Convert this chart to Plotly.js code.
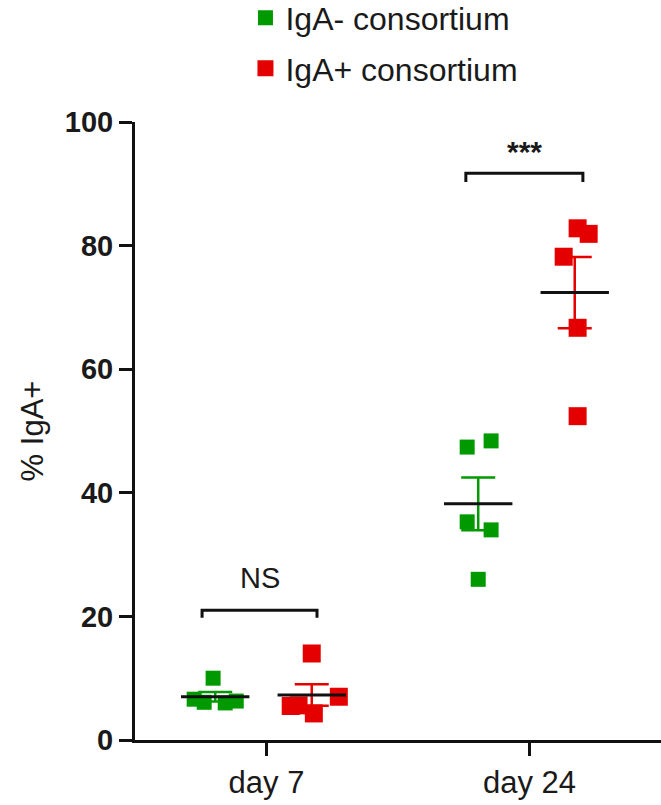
<!DOCTYPE html>
<html>
<head>
<meta charset="utf-8">
<script src="https://cdn.plot.ly/plotly-3.0.1.min.js"></script>
<style>
  html, body { margin: 0; padding: 0; background: #fff; }
  #chart { width: 661px; height: 805px; }
</style>
</head>
<body>
<div id="chart"></div>
<script>
// ---- data ----
const categories = ['day 7', 'day 24'];
const seriesNames = ['IgA- consortium', 'IgA+ consortium'];
const igaNegDay7  = [10.0, 6.6, 6.3, 6.1, 6.0];
const igaPosDay7  = [14.0, 7.0, 5.5, 4.3, 5.6];
const igaNegDay24 = [47.4, 48.4, 35.3, 34.0, 26.0];
const igaPosDay24 = [82.8, 81.9, 78.2, 66.7, 52.4];
const yTicks = [0, 20, 40, 60, 80, 100];
const sigLabels = ['NS', '***'];

// ---- layout helpers (positions/styles, not data) ----
const groupOffset = [-0.195, 0.172];
const jitter = {
  negDay7:  [-0.008, -0.080, 0.080, -0.042, 0.038],
  posDay7:  [0.000, 0.103, -0.080, 0.008, -0.050],
  negDay24: [-0.042, 0.049, -0.042, 0.049, 0.000],
  posDay24: [0.011, 0.053, -0.042, 0.011, 0.011]
};
const colors = ['#009a00', '#e50000'];
const markerSizes = [15, 18];
const meanHalf = 0.13;

function mean(a) { return a.reduce((s, v) => s + v, 0) / a.length; }
function sem(a) {
  const m = mean(a);
  const sd = Math.sqrt(a.reduce((s, v) => s + (v - m) * (v - m), 0) / (a.length - 1));
  return sd / Math.sqrt(a.length);
}

const groups = [
  [igaNegDay7, igaNegDay24],
  [igaPosDay7, igaPosDay24]
];
const jit = [[jitter.negDay7, jitter.negDay24], [jitter.posDay7, jitter.posDay24]];

const traces = [];
// points
for (let s = 0; s < 2; s++) {
  const xs = [], ys = [];
  for (let c = 0; c < 2; c++) {
    groups[s][c].forEach((v, i) => {
      xs.push(c + groupOffset[s] + jit[s][c][i]);
      ys.push(v);
    });
  }
  traces.push({
    type: 'scatter', mode: 'markers', x: xs, y: ys, name: seriesNames[s],
    marker: { symbol: 'square', size: markerSizes[s], color: colors[s] },
    showlegend: true, legendgroup: 'g' + s, hoverinfo: 'y', cliponaxis: false
  });
}
// SEM error bars
for (let s = 0; s < 2; s++) {
  const xs = [], ys = [], errs = [];
  for (let c = 0; c < 2; c++) {
    xs.push(c + groupOffset[s]);
    ys.push(mean(groups[s][c]));
    errs.push(sem(groups[s][c]));
  }
  traces.push({
    type: 'scatter', mode: 'markers', x: xs, y: ys, showlegend: false,
    marker: { size: 1, color: 'rgba(0,0,0,0)' },
    error_y: { type: 'data', array: errs, visible: true, color: colors[s], thickness: 2.5, width: 17 },
    hoverinfo: 'skip'
  });
}
// mean lines
for (let s = 0; s < 2; s++) {
  for (let c = 0; c < 2; c++) {
    const m = mean(groups[s][c]);
    const xc = c + groupOffset[s];
    traces.push({
      type: 'scatter', mode: 'lines', x: [xc - meanHalf, xc + meanHalf], y: [m, m],
      line: { color: '#111', width: 3 }, showlegend: false, hoverinfo: 'skip'
    });
  }
}

const textColor = '#1a1a1a';
const layout = {
  width: 661, height: 805,
  margin: { l: 135, r: 0, t: 122, b: 65, autoexpand: false },
  paper_bgcolor: '#fff', plot_bgcolor: '#fff',
  font: { family: 'Liberation Sans, Arial, sans-serif', color: textColor },
  showlegend: true,
  legend: {
    x: 0.21, xanchor: 'left', y: 1.213, yanchor: 'top',
    font: { size: 32, family: 'Liberation Sans, Arial, sans-serif', color: textColor },
    tracegroupgap: 6, bgcolor: 'rgba(0,0,0,0)'
  },
  xaxis: {
    range: [-0.5, 1.5], tickmode: 'array', tickvals: [0, 1], ticktext: categories,
    showgrid: false, zeroline: false, showline: true, linecolor: '#111', linewidth: 3,
    ticks: 'outside', ticklen: 13, tickwidth: 3, tickcolor: '#111',
    tickfont: { size: 31, family: 'Liberation Sans, Arial, sans-serif', color: textColor },
    fixedrange: true
  },
  yaxis: {
    range: [0, 100], tickmode: 'array', tickvals: yTicks, ticktext: yTicks.map(String),
    showgrid: false, zeroline: false, showline: true, linecolor: '#111', linewidth: 3,
    ticks: 'outside', ticklen: 13, tickwidth: 3, tickcolor: '#111',
    tickfont: { size: 29, family: 'Liberation Sans, Arial, sans-serif', color: textColor, weight: 'bold' },
    title: { text: '% IgA+', font: { size: 31, color: textColor }, standoff: 12 },
    fixedrange: true
  },
  shapes: [
    { type: 'path', xref: 'x', yref: 'y', path: 'M -0.245 19.8 L -0.245 21 L 0.192 21 L 0.192 19.8',
      line: { color: '#111', width: 3 } },
    { type: 'path', xref: 'x', yref: 'y', path: 'M 0.758 90.3 L 0.758 91.7 L 1.203 91.7 L 1.203 90.3',
      line: { color: '#111', width: 3 } }
  ],
  annotations: [
    { xref: 'x', yref: 'y', x: -0.025, y: 26.2, text: sigLabels[0], showarrow: false,
      font: { size: 29, color: textColor } },
    { xref: 'x', yref: 'y', x: 0.98, y: 95.2, text: sigLabels[1], showarrow: false,
      font: { size: 30, color: textColor, weight: 'bold' } }
  ]
};

Plotly.newPlot('chart', traces, layout, { displayModeBar: false, staticPlot: true });
</script>
</body>
</html>
